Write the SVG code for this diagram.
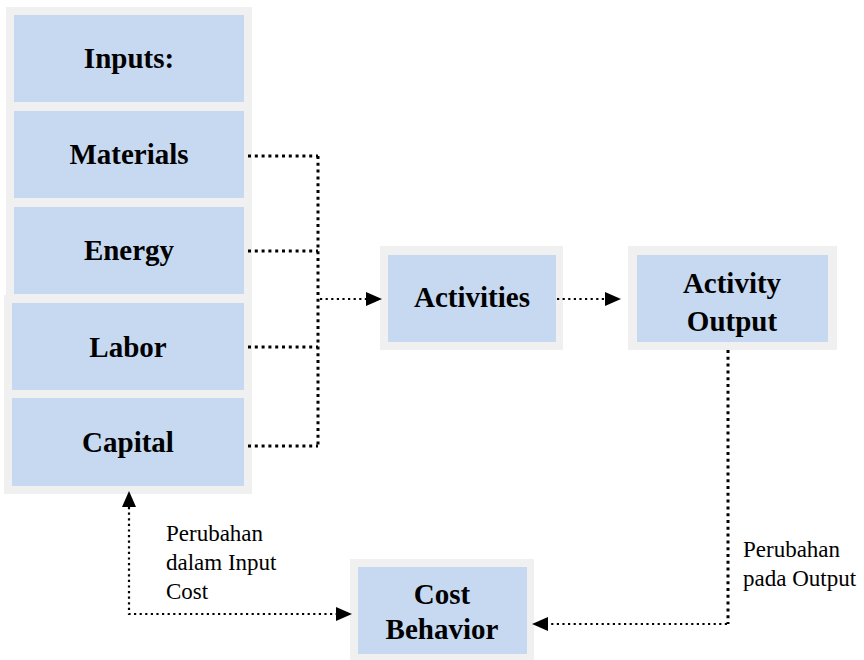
<svg xmlns="http://www.w3.org/2000/svg" width="864" height="660" viewBox="0 0 864 660">
  <style>
    .frame { fill: #f0f0f0; }
    .box { fill: #c6d9f0; }
    .title { font-family: "Liberation Serif", "Times New Roman", serif; font-weight: bold; font-size: 29px; fill: #000; text-anchor: middle; }
    .note { font-family: "Liberation Serif", "Times New Roman", serif; font-size: 23px; fill: #000; }
    .thick { fill: none; stroke: #000; stroke-width: 3; stroke-dasharray: 3 3.8; }
    .thin { fill: none; stroke: #000; stroke-width: 2.2; stroke-dasharray: 2.2 3.4; }
  </style>
  <defs>
    <marker id="head" viewBox="0 0 16 14" refX="0" refY="7" markerWidth="16" markerHeight="14" markerUnits="userSpaceOnUse" orient="auto-start-reverse">
      <path d="M0,0 L16,7 L0,14 Z" fill="#000"/>
    </marker>
  </defs>

  <rect width="864" height="660" fill="#fff"/>

  <!-- input stack -->
  <g id="inputs">
    <rect class="frame" x="6" y="7" width="246" height="103"/>
    <rect class="box" x="14" y="15" width="230" height="87"/>
    <text class="title" x="129" y="68">Inputs:</text>
  </g>
  <g id="materials">
    <rect class="frame" x="6" y="103" width="246" height="103"/>
    <rect class="box" x="14" y="111" width="230" height="87"/>
    <text class="title" x="129" y="164">Materials</text>
  </g>
  <g id="energy">
    <rect class="frame" x="6" y="199" width="246" height="103"/>
    <rect class="box" x="14" y="207" width="230" height="87"/>
    <text class="title" x="129" y="260">Energy</text>
  </g>
  <g id="labor">
    <rect class="frame" x="4" y="295" width="248" height="103"/>
    <rect class="box" x="12" y="303" width="232" height="87"/>
    <text class="title" x="128" y="357">Labor</text>
  </g>
  <g id="capital">
    <rect class="frame" x="4" y="390" width="248" height="104"/>
    <rect class="box" x="12" y="398" width="232" height="88"/>
    <text class="title" x="128" y="452">Capital</text>
  </g>

  <g id="activities">
    <rect class="frame" x="380" y="246" width="183" height="104"/>
    <rect class="box" x="388" y="255" width="168" height="87"/>
    <text class="title" x="472" y="307">Activities</text>
  </g>

  <g id="activity-output">
    <rect class="frame" x="628" y="246" width="209" height="104"/>
    <rect class="box" x="637" y="255" width="191" height="87"/>
    <text class="title" x="732" y="293">Activity</text>
    <text class="title" x="732" y="331">Output</text>
  </g>

  <g id="cost-behavior">
    <rect class="frame" x="350" y="559" width="184" height="101"/>
    <rect class="box" x="358" y="567" width="169" height="87"/>
    <text class="title" x="442" y="604">Cost</text>
    <text class="title" x="442" y="639">Behavior</text>
  </g>

  <g id="connectors">
    <path class="thick" d="M248,156 H318 M248,251 H318 M248,347 H318 M248,446 H318"/>
    <path class="thick" d="M318,156 V446"/>
    <path class="thin" d="M320,299 H366" marker-end="url(#head)"/>
    <path class="thin" d="M557,299 H605" marker-end="url(#head)"/>
    <path class="thick" d="M728,350 V624"/>
    <path class="thin" d="M727,624 H548" marker-end="url(#head)"/>
    <path class="thin" d="M129,507 V614 H336" marker-start="url(#head)" marker-end="url(#head)"/>
  </g>

  <g id="labels">
    <text class="note" x="166" y="541">Perubahan</text>
    <text class="note" x="166" y="570">dalam Input</text>
    <text class="note" x="166" y="599">Cost</text>
    <text class="note" x="743" y="557">Perubahan</text>
    <text class="note" x="743" y="586">pada Output</text>
  </g>
</svg>
